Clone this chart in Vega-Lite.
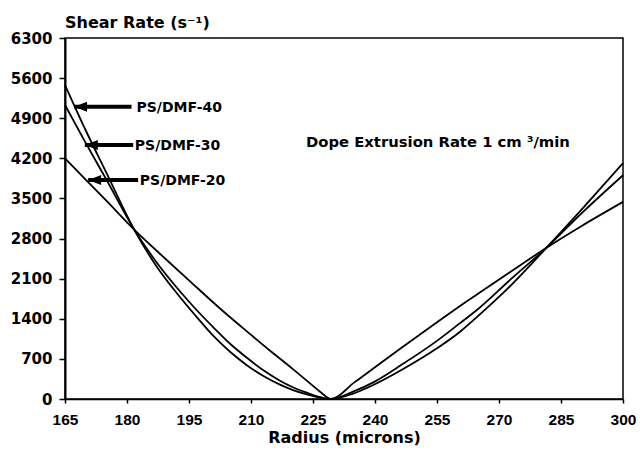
{
  "$schema": "https://vega.github.io/schema/vega-lite/v6.json",
  "width": 558,
  "height": 361,
  "autosize": "none",
  "padding": {"left": 65, "top": 38, "right": 17, "bottom": 54},
  "background": "white",
  "title": {"text": "Shear Rate (s⁻¹)", "anchor": "start", "frame": "group", "offset": 0, "font": "DejaVu Sans", "fontSize": 16, "fontWeight": "bold", "color": "black"},
  "config": {"view": {"stroke": "black", "strokeWidth": 1.5}, "font": "DejaVu Sans"},
  "datasets": {
    "curves": [
      {"series": "PS/DMF-40", "r": 165, "v": 5480}, {"series": "PS/DMF-40", "r": 170, "v": 4690}, {"series": "PS/DMF-40", "r": 175, "v": 3950}, {"series": "PS/DMF-40", "r": 181.8, "v": 2950}, {"series": "PS/DMF-40", "r": 187, "v": 2330}, {"series": "PS/DMF-40", "r": 192.8, "v": 1780}, {"series": "PS/DMF-40", "r": 197, "v": 1420}, {"series": "PS/DMF-40", "r": 200.9, "v": 1100}, {"series": "PS/DMF-40", "r": 205, "v": 820}, {"series": "PS/DMF-40", "r": 209, "v": 590}, {"series": "PS/DMF-40", "r": 213, "v": 400}, {"series": "PS/DMF-40", "r": 217, "v": 250}, {"series": "PS/DMF-40", "r": 220, "v": 160}, {"series": "PS/DMF-40", "r": 223.5, "v": 80}, {"series": "PS/DMF-40", "r": 226, "v": 35}, {"series": "PS/DMF-40", "r": 229.3, "v": 0}, {"series": "PS/DMF-40", "r": 234.7, "v": 95}, {"series": "PS/DMF-40", "r": 239.6, "v": 245}, {"series": "PS/DMF-40", "r": 246.5, "v": 510}, {"series": "PS/DMF-40", "r": 254.9, "v": 880}, {"series": "PS/DMF-40", "r": 260.5, "v": 1170}, {"series": "PS/DMF-40", "r": 264.5, "v": 1420}, {"series": "PS/DMF-40", "r": 273, "v": 1990}, {"series": "PS/DMF-40", "r": 281.5, "v": 2640}, {"series": "PS/DMF-40", "r": 290.4, "v": 3340}, {"series": "PS/DMF-40", "r": 300, "v": 4115},
      {"series": "PS/DMF-30", "r": 165, "v": 5130}, {"series": "PS/DMF-30", "r": 170, "v": 4470}, {"series": "PS/DMF-30", "r": 175, "v": 3830}, {"series": "PS/DMF-30", "r": 181.8, "v": 2950}, {"series": "PS/DMF-30", "r": 187, "v": 2400}, {"series": "PS/DMF-30", "r": 192.8, "v": 1880}, {"series": "PS/DMF-30", "r": 197, "v": 1540}, {"series": "PS/DMF-30", "r": 200.9, "v": 1250}, {"series": "PS/DMF-30", "r": 205, "v": 960}, {"series": "PS/DMF-30", "r": 209, "v": 720}, {"series": "PS/DMF-30", "r": 213, "v": 500}, {"series": "PS/DMF-30", "r": 217, "v": 320}, {"series": "PS/DMF-30", "r": 220, "v": 210}, {"series": "PS/DMF-30", "r": 223.5, "v": 110}, {"series": "PS/DMF-30", "r": 226, "v": 45}, {"series": "PS/DMF-30", "r": 229.3, "v": 0}, {"series": "PS/DMF-30", "r": 234.7, "v": 128}, {"series": "PS/DMF-30", "r": 239.6, "v": 290}, {"series": "PS/DMF-30", "r": 246.5, "v": 600}, {"series": "PS/DMF-30", "r": 254.9, "v": 1010}, {"series": "PS/DMF-30", "r": 260.5, "v": 1320}, {"series": "PS/DMF-30", "r": 264.5, "v": 1545}, {"series": "PS/DMF-30", "r": 273, "v": 2100}, {"series": "PS/DMF-30", "r": 281.5, "v": 2640}, {"series": "PS/DMF-30", "r": 290.4, "v": 3270}, {"series": "PS/DMF-30", "r": 300, "v": 3905},
      {"series": "PS/DMF-20", "r": 165, "v": 4200}, {"series": "PS/DMF-20", "r": 170, "v": 3830}, {"series": "PS/DMF-20", "r": 175, "v": 3460}, {"series": "PS/DMF-20", "r": 181.8, "v": 2950}, {"series": "PS/DMF-20", "r": 190, "v": 2400}, {"series": "PS/DMF-20", "r": 195, "v": 2070}, {"series": "PS/DMF-20", "r": 202.5, "v": 1580}, {"series": "PS/DMF-20", "r": 209, "v": 1180}, {"series": "PS/DMF-20", "r": 215, "v": 820}, {"series": "PS/DMF-20", "r": 220, "v": 530}, {"series": "PS/DMF-20", "r": 224, "v": 290}, {"series": "PS/DMF-20", "r": 227, "v": 110}, {"series": "PS/DMF-20", "r": 229.3, "v": 0}, {"series": "PS/DMF-20", "r": 235, "v": 290}, {"series": "PS/DMF-20", "r": 240, "v": 555}, {"series": "PS/DMF-20", "r": 246.5, "v": 900}, {"series": "PS/DMF-20", "r": 255, "v": 1340}, {"series": "PS/DMF-20", "r": 260.5, "v": 1620}, {"series": "PS/DMF-20", "r": 265, "v": 1840}, {"series": "PS/DMF-20", "r": 273, "v": 2230}, {"series": "PS/DMF-20", "r": 281.5, "v": 2640}, {"series": "PS/DMF-20", "r": 290, "v": 3020}, {"series": "PS/DMF-20", "r": 300, "v": 3440}
    ],
    "arrows": [
      {"series": "PS/DMF-40", "r": 167.2, "r2": 181.1, "v": 5102},
      {"series": "PS/DMF-30", "r": 169.8, "r2": 181.5, "v": 4433},
      {"series": "PS/DMF-20", "r": 170.6, "r2": 182.7, "v": 3822}
    ],
    "labels": [
      {"label": "PS/DMF-40", "r": 182.3, "v": 5014},
      {"label": "PS/DMF-30", "r": 181.9, "v": 4346},
      {"label": "PS/DMF-20", "r": 183.1, "v": 3735},
      {"label": "Dope Extrusion Rate 1 cm ³/min", "r": 223.3, "v": 4398}
    ]
  },
  "layer": [
    {
      "data": {"name": "curves"},
      "mark": {"type": "line", "interpolate": "monotone", "color": "black", "strokeWidth": 1.8},
      "encoding": {
        "x": {"field": "r", "type": "quantitative", "title": "Radius (microns)",
          "scale": {"domain": [165, 300], "nice": false, "zero": false},
          "axis": {"values": [165, 180, 195, 210, 225, 240, 255, 270, 285, 300], "grid": false, "tickSize": 4, "tickWidth": 1.5, "tickColor": "black", "domainColor": "black", "domainWidth": 1.5,
            "labelFont": "Liberation Sans", "labelFontWeight": "bold", "labelFontSize": 15.5, "labelColor": "black", "labelBaseline": "top", "labelPadding": 9, "labelFlush": false,
            "titleFont": "DejaVu Sans", "titleFontSize": 16, "titleFontWeight": "bold", "titleColor": "black", "titleBaseline": "alphabetic", "titleY": 43}},
        "y": {"field": "v", "type": "quantitative", "title": null,
          "scale": {"domain": [0, 6300], "nice": false},
          "axis": {"values": [0, 700, 1400, 2100, 2800, 3500, 4200, 4900, 5600, 6300], "format": "d", "grid": false, "tickSize": 6, "tickWidth": 1.5, "tickColor": "black", "domainColor": "black", "domainWidth": 2,
            "labelFont": "DejaVu Sans", "labelFontWeight": "bold", "labelFontSize": 15, "labelColor": "black", "labelPadding": 7, "labelFlush": false}},
        "detail": {"field": "series", "type": "nominal"}
      }
    },
    {
      "data": {"name": "arrows"},
      "mark": {"type": "rule", "color": "black", "strokeWidth": 4},
      "encoding": {
        "x": {"field": "r", "type": "quantitative", "title": "Radius (microns)"},
        "x2": {"field": "r2"},
        "y": {"field": "v", "type": "quantitative", "title": null}
      }
    },
    {
      "data": {"name": "arrows"},
      "mark": {"type": "point", "shape": "M0,0L2.6,-1L2.6,1Z", "size": 100, "filled": true, "color": "black", "opacity": 1, "strokeWidth": 0},
      "encoding": {
        "x": {"field": "r", "type": "quantitative", "title": "Radius (microns)"},
        "y": {"field": "v", "type": "quantitative", "title": null}
      }
    },
    {
      "data": {"name": "labels"},
      "transform": [{"filter": "datum.label != 'Dope Extrusion Rate 1 cm ³/min'"}],
      "mark": {"type": "text", "align": "left", "baseline": "alphabetic", "font": "DejaVu Sans", "fontWeight": "bold", "fontSize": 14, "color": "black"},
      "encoding": {
        "x": {"field": "r", "type": "quantitative", "title": "Radius (microns)"},
        "y": {"field": "v", "type": "quantitative", "title": null},
        "text": {"field": "label", "type": "nominal"}
      }
    },
    {
      "data": {"name": "labels"},
      "transform": [{"filter": "datum.label == 'Dope Extrusion Rate 1 cm ³/min'"}],
      "mark": {"type": "text", "align": "left", "baseline": "alphabetic", "font": "DejaVu Sans", "fontWeight": "bold", "fontSize": 14.8, "color": "black"},
      "encoding": {
        "x": {"field": "r", "type": "quantitative", "title": "Radius (microns)"},
        "y": {"field": "v", "type": "quantitative", "title": null},
        "text": {"field": "label", "type": "nominal"}
      }
    }
  ]
}
